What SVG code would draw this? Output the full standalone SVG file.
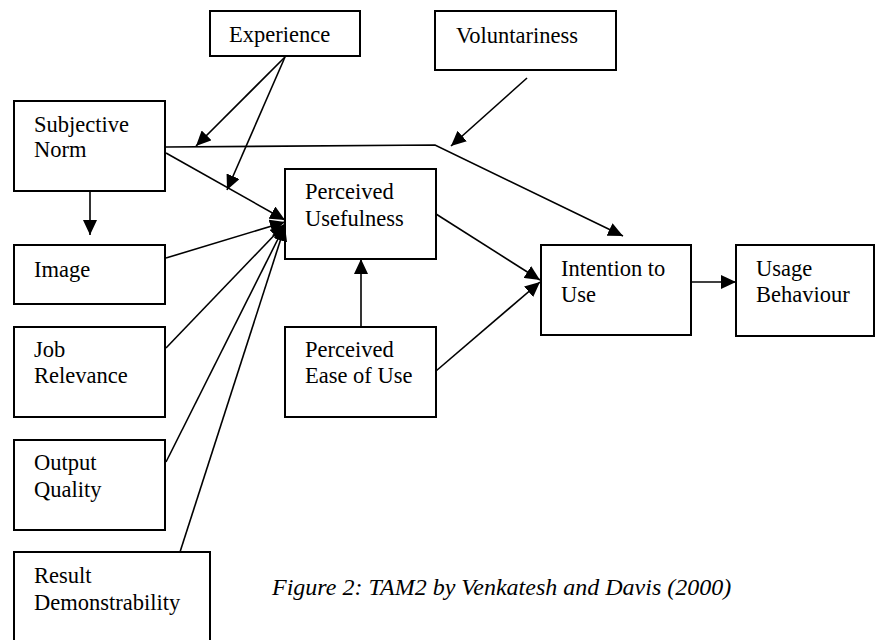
<svg xmlns="http://www.w3.org/2000/svg" width="875" height="640" viewBox="0 0 875 640">
<style>
.box{fill:#fff;stroke:#000;stroke-width:2}
.t{font-family:'Liberation Serif','DejaVu Serif',serif;font-size:22.5px;fill:#000}
.cap{font-family:'Liberation Serif','DejaVu Serif',serif;font-size:24px;font-style:italic;fill:#000}
.c{fill:none;stroke:#000;stroke-width:1.6}
</style>
<defs>
<marker id="ah" markerUnits="userSpaceOnUse" markerWidth="16" markerHeight="14" refX="15" refY="7" orient="auto" viewBox="0 0 16 14">
<path d="M0,0 L15,7 L0,14 z" fill="#000"/>
</marker>
</defs>
<rect width="875" height="640" fill="#fff"/>
<g id="experience"><rect class="box" x="210" y="11" width="150" height="45"/><text class="t" x="229" y="42">Experience</text></g>
<g id="voluntariness"><rect class="box" x="435" y="11" width="181" height="59"/><text class="t" x="456" y="43">Voluntariness</text></g>
<g id="subjective-norm"><rect class="box" x="14" y="101" width="151" height="90"/><text class="t" x="34" y="132">Subjective</text><text class="t" x="34" y="157">Norm</text></g>
<g id="image"><rect class="box" x="14" y="245" width="151" height="59"/><text class="t" x="34" y="277">Image</text></g>
<g id="job-relevance"><rect class="box" x="14" y="327" width="151" height="90"/><text class="t" x="34" y="357">Job</text><text class="t" x="34" y="383">Relevance</text></g>
<g id="output-quality"><rect class="box" x="14" y="440" width="151" height="90"/><text class="t" x="34" y="470">Output</text><text class="t" x="34" y="497">Quality</text></g>
<g id="result-demonstrability"><rect class="box" x="14" y="552" width="196" height="95"/><text class="t" x="34" y="583">Result</text><text class="t" x="34" y="610">Demonstrability</text></g>
<g id="perceived-usefulness"><rect class="box" x="285" y="169" width="151" height="90"/><text class="t" x="305" y="199">Perceived</text><text class="t" x="305" y="226">Usefulness</text></g>
<g id="perceived-ease"><rect class="box" x="285" y="327" width="151" height="90"/><text class="t" x="305" y="357">Perceived</text><text class="t" x="305" y="383">Ease of Use</text></g>
<g id="intention"><rect class="box" x="541" y="245" width="150" height="90"/><text class="t" x="561" y="276">Intention to</text><text class="t" x="561" y="302">Use</text></g>
<g id="usage"><rect class="box" x="736" y="245" width="138" height="91"/><text class="t" x="756" y="276">Usage</text><text class="t" x="756" y="302">Behaviour</text></g>
<g id="connectors">
<path class="c" d="M285,57 L196,146" marker-end="url(#ah)"/>
<path class="c" d="M285,57 L227,190" marker-end="url(#ah)"/>
<path class="c" d="M166,153 L285,220" marker-end="url(#ah)"/>
<path class="c" d="M90,191 L90,235" marker-end="url(#ah)"/>
<path class="c" d="M166,258 L285,222" marker-end="url(#ah)"/>
<path class="c" d="M166,348 L285,224" marker-end="url(#ah)"/>
<path class="c" d="M166,462 L285,225" marker-end="url(#ah)"/>
<path class="c" d="M180,552 L285,226" marker-end="url(#ah)"/>
<path class="c" d="M166,147 L435,145 L623,236" marker-end="url(#ah)"/>
<path class="c" d="M527,78 L451,146" marker-end="url(#ah)"/>
<path class="c" d="M436,214 L540,280" marker-end="url(#ah)"/>
<path class="c" d="M436,371 L540,282" marker-end="url(#ah)"/>
<path class="c" d="M361,327 L361,259" marker-end="url(#ah)"/>
<path class="c" d="M691,282 L736,282" marker-end="url(#ah)"/>
</g>
<text class="cap" x="272" y="595">Figure 2: TAM2 by Venkatesh and Davis (2000)</text>
</svg>
